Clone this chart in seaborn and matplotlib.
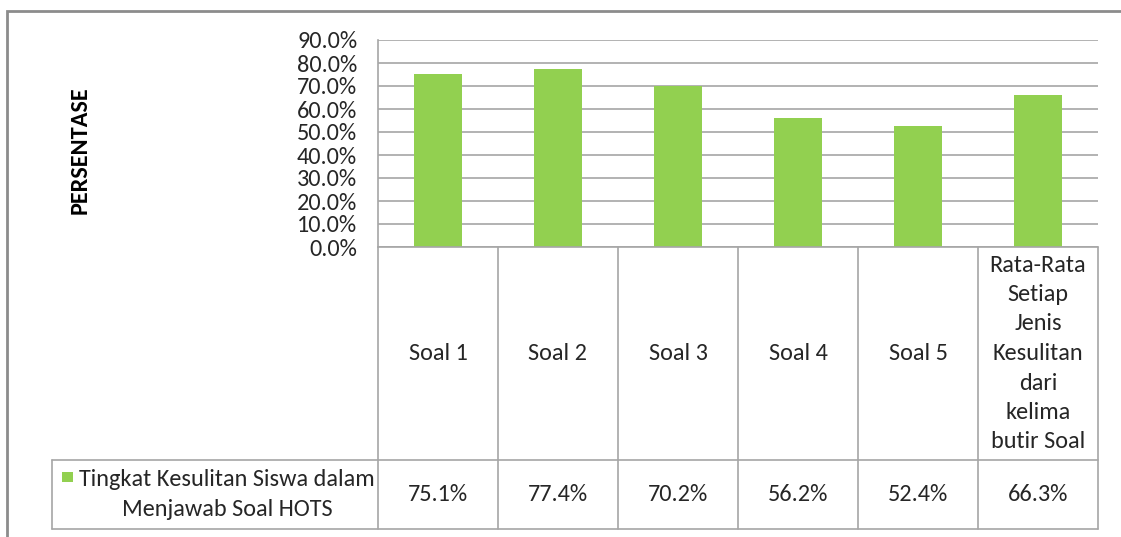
import matplotlib
matplotlib.use("Agg")
import matplotlib.pyplot as plt
import seaborn as sns
import pandas as pd
from matplotlib.lines import Line2D
from matplotlib.patches import Rectangle
from matplotlib.transforms import blended_transform_factory

categories = ["Soal 1", "Soal 2", "Soal 3", "Soal 4", "Soal 5",
              "Rata-Rata\nSetiap\nJenis\nKesulitan\ndari\nkelima\nbutir Soal"]
values = [75.1, 77.4, 70.2, 56.2, 52.4, 66.3]
series_name = "Tingkat Kesulitan Siswa dalam\nMenjawab Soal HOTS"
y_ticks = [0, 10, 20, 30, 40, 50, 60, 70, 80, 90]
y_label = "PERSENTASE"

BAR = "#92D050"
GRID = "#A6A6A6"
TXT = "#262626"
FS = 17.5
LS = 1.5

sns.set_theme(style="white")
plt.rcParams['font.family'] = ['Carlito', 'Lato', 'DejaVu Sans']

W, H = 1121, 537
fig = plt.figure(figsize=(W / 100, H / 100), dpi=100)
fx = lambda px: px / W
fy = lambda py: 1 - py / H

ax = fig.add_axes([fx(378), fy(247), fx(1098) - fx(378), fy(40) - fy(247)])
df = pd.DataFrame({"cat": [str(i) for i in range(len(categories))], "val": values})
sns.barplot(data=df, x="cat", y="val", color=BAR, width=0.4, saturation=1, ax=ax)
ax.set_ylim(0, 90)
ax.set_xlim(-0.5, len(categories) - 0.5)
ax.set_yticks(y_ticks)
ax.set_yticklabels([f"{t:.1f}%" for t in y_ticks], fontsize=FS, color=TXT)
ax.set_xticks([])
ax.set_xlabel("")
ax.set_ylabel("")
ax.tick_params(axis="y", length=0, pad=15)
ax.yaxis.grid(True, color=GRID, lw=1.2)
ax.set_axisbelow(True)
for s in ["top", "right", "bottom"]:
    ax.spines[s].set_visible(False)
ax.spines["left"].set_color(GRID)
ax.spines["left"].set_linewidth(1.2)
for p in ax.patches:
    p.set_edgecolor("none")

# y label
fig.text(fx(80), fy(150), y_label, rotation=90, ha="center", va="center",
         fontsize=FS, fontweight="bold", color="black")

# data table
bt = blended_transform_factory(ax.transData, fig.transFigure)
n = len(categories)
LW = 1.2
y_top, y_mid, y_bot = fy(247), fy(460), fy(529)
for xb in [i - 0.5 for i in range(n + 1)]:
    fig.add_artist(Line2D([xb, xb], [y_bot, y_top], transform=bt, color=GRID, lw=LW))
fig.add_artist(Line2D([-0.5, n - 0.5], [y_top, y_top], transform=bt, color=GRID, lw=LW))
fig.add_artist(Line2D([fx(52), fx(1098)], [y_mid, y_mid], color=GRID, lw=LW))
fig.add_artist(Line2D([fx(52), fx(1098)], [y_bot, y_bot], color=GRID, lw=LW))
fig.add_artist(Line2D([fx(52), fx(52)], [y_bot, y_mid], color=GRID, lw=LW))

for i, (c, v) in enumerate(zip(categories, values)):
    ax.text(i, (y_top + y_mid) / 2, c, transform=bt, ha="center", va="center",
            fontsize=FS, color=TXT, linespacing=LS, multialignment="center", clip_on=False)
    ax.text(i, (y_mid + y_bot) / 2, f"{v:.1f}%", transform=bt, ha="center", va="center",
            fontsize=FS, color=TXT, clip_on=False)

# legend cell
fig.text(fx(227), (y_mid + y_bot) / 2, series_name, ha="center", va="center",
         fontsize=FS, color=TXT, linespacing=LS, multialignment="center")
fig.add_artist(Rectangle((fx(62), fy(482)), fx(11), fy(472) - fy(482),
                         transform=fig.transFigure, facecolor=BAR, edgecolor="none"))

# outer chart frame
fig.add_artist(Rectangle((fx(7), fy(545)), fx(1130) - fx(7), fy(11) - fy(545),
                         transform=fig.transFigure, facecolor="none",
                         edgecolor="#8C8C8C", lw=2, clip_on=False))

fig.savefig("out.png", dpi=100)
